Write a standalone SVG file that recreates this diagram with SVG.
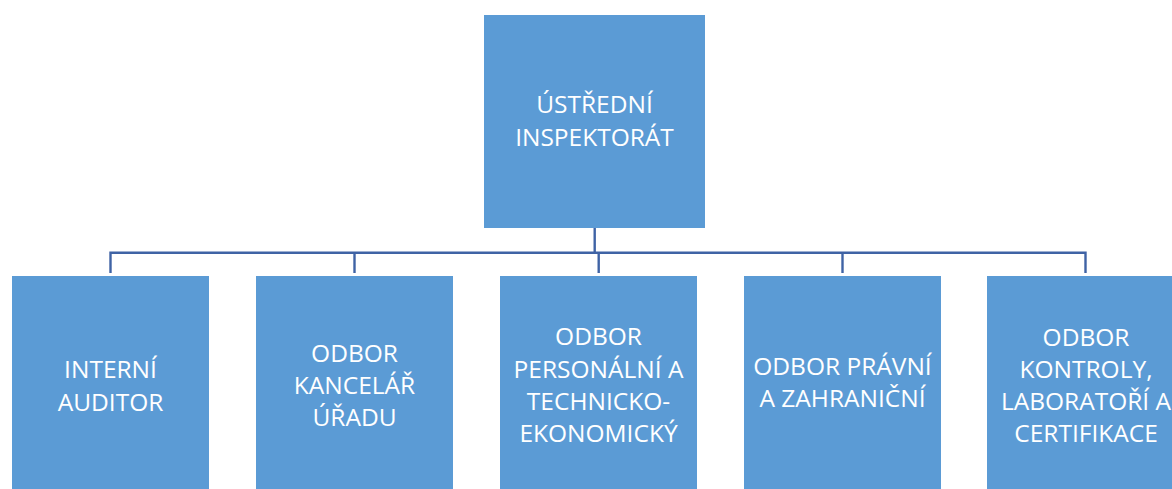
<svg xmlns="http://www.w3.org/2000/svg" width="1172" height="489" viewBox="0 0 1172 489">
<style>
.box{fill:#5B9BD5;}
.t{font-family:"Open Sans","Liberation Sans",sans-serif;font-size:24.5px;fill:#FFFFFF;text-anchor:middle;}
.c{stroke:#3F63A5;stroke-width:2.4;fill:none;}
</style>
<rect width="1172" height="489" fill="#FFFFFF"/>
<g id="connectors">
<path class="c" d="M594.7 228 V252.7"/>
<path class="c" d="M110.5 273 V252.7 H1085.5 V273"/>
<path class="c" d="M354.5 252.7 V273"/>
<path class="c" d="M598.7 252.7 V273"/>
<path class="c" d="M842.5 252.7 V273"/>
</g>
<g id="node-ustredni">
<rect class="box" x="484" y="15" width="221" height="213"/>
<text class="t" x="594.5" y="113">ÚSTŘEDNÍ</text>
<text class="t" x="594.5" y="146">INSPEKTORÁT</text>
</g>
<g id="node-interni">
<rect class="box" x="12" y="276" width="197" height="213"/>
<text class="t" x="110.5" y="378">INTERNÍ</text>
<text class="t" x="110.5" y="411">AUDITOR</text>
</g>
<g id="node-kancelar">
<rect class="box" x="256" y="276" width="197" height="213"/>
<text class="t" x="354.5" y="362">ODBOR</text>
<text class="t" x="354.5" y="394">KANCELÁŘ</text>
<text class="t" x="354.5" y="426">ÚŘADU</text>
</g>
<g id="node-personalni">
<rect class="box" x="500" y="276" width="197" height="213"/>
<text class="t" x="598.5" y="345">ODBOR</text>
<text class="t" x="598.5" y="378">PERSONÁLNÍ A</text>
<text class="t" x="598.5" y="410">TECHNICKO-</text>
<text class="t" x="598.5" y="442">EKONOMICKÝ</text>
</g>
<g id="node-pravni">
<rect class="box" x="744" y="276" width="197" height="213"/>
<text class="t" x="842.5" y="375">ODBOR PRÁVNÍ</text>
<text class="t" x="842.5" y="407">A ZAHRANIČNÍ</text>
</g>
<g id="node-kontroly">
<rect class="box" x="987" y="276" width="198" height="213"/>
<text class="t" x="1086" y="346">ODBOR</text>
<text class="t" x="1086" y="378">KONTROLY,</text>
<text class="t" x="1086" y="410">LABORATOŘÍ A</text>
<text class="t" x="1086" y="442">CERTIFIKACE</text>
</g>
</svg>
